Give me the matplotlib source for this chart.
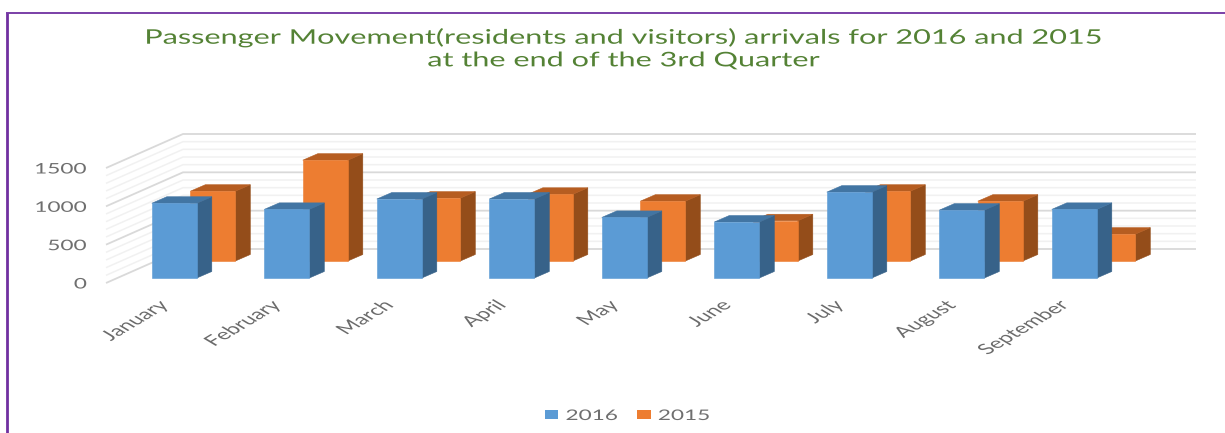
import matplotlib
matplotlib.use("Agg")
import matplotlib.pyplot as plt
from matplotlib.patches import Polygon, Patch
from matplotlib.lines import Line2D
from matplotlib.patheffects import AbstractPathEffect
from matplotlib.transforms import Affine2D

months = ["January", "February", "March", "April", "May", "June", "July", "August", "September"]
values_2016 = [975, 895, 1030, 1030, 790, 730, 1120, 885, 895]
values_2015 = [910, 1315, 820, 870, 780, 525, 910, 780, 350]
series_names = ["2016", "2015"]
major_ticks = [0, 500, 1000, 1500]
minor_step = 100

W, H = 1225, 433
CAT_PX = 112.5
VAL_PX = 115 / 1500
X0_PX, Y0_PX = 174.3, 278
FONT = "Lato"


class Stretch(AbstractPathEffect):
    """Widen text horizontally about a pixel x (the reference image is stretched)."""

    def __init__(self, sx, cx=None):
        super().__init__()
        self.sx, self.cx = sx, cx

    def draw_path(self, renderer, gc, tpath, affine, rgbFace=None):
        cx = self.cx if self.cx is not None else affine.get_matrix()[0, 2]
        t = affine + Affine2D().translate(-cx, 0).scale(self.sx, 1).translate(cx, 0)
        renderer.draw_path(gc, tpath, t, rgbFace)


fig = plt.figure(figsize=(W / 100, H / 100), dpi=100)
ax = fig.add_axes([0, 0, 1, 1])
ax.set_xlim(-X0_PX / CAT_PX, (W - X0_PX) / CAT_PX)
ax.set_ylim((Y0_PX - H) / VAL_PX, Y0_PX / VAL_PX)
ax.axis("off")

dcat = lambda px: px / CAT_PX
dval = lambda px: px / VAL_PX

BAR_W = dcat(45)
DEPTH_X, DEPTH_Y = dcat(15), dval(6.5)
wall_front_x, wall_back_x, wall_end_x = dcat(106 - X0_PX), dcat(183 - X0_PX), dcat(1196 - X0_PX)
wall_front_y, wall_back_y = dval(-5), dval(29)

# walls and gridlines
for v in range(major_ticks[0], major_ticks[-1] + 1, minor_step):
    major = v in major_ticks
    c = "#D9D9D9" if major else "#F1F1F1"
    lw = 1.3 if major else 1.1
    z = 2 if major else 1
    ax.plot([wall_front_x, wall_back_x, wall_end_x],
            [wall_front_y + v, wall_back_y + v, wall_back_y + v],
            color=c, lw=lw, zorder=z, solid_joinstyle="miter", solid_capstyle="butt")


def bar(i, v, shift_x, shift_y, front, top, side, z):
    x0 = i - BAR_W / 2 + shift_x
    x1 = x0 + BAR_W
    y0 = shift_y
    y1 = v + shift_y
    ax.add_patch(Polygon([(x1, y0), (x1 + DEPTH_X, y0 + DEPTH_Y), (x1 + DEPTH_X, y1 + DEPTH_Y), (x1, y1)],
                         fc=side, ec=side, lw=0.4, zorder=z))
    ax.add_patch(Polygon([(x0, y1), (x1, y1), (x1 + DEPTH_X, y1 + DEPTH_Y), (x0 + DEPTH_X, y1 + DEPTH_Y)],
                         fc=top, ec=top, lw=0.4, zorder=z))
    ax.add_patch(Polygon([(x0, y0), (x1, y0), (x1, y1), (x0, y1)], fc=front, ec=front, lw=0.4, zorder=z))


for i, v in enumerate(values_2015):
    bar(i, v, dcat(38.5), dval(17), "#ED7D31", "#B65D21", "#944D1A", 3)
for i, v in enumerate(values_2016):
    bar(i, v, 0, 0, "#5B9BD5", "#4275A3", "#376289", 4)

# value labels
for v in major_ticks:
    ax.text(dcat(87 - X0_PX), wall_front_y + v - dval(1.5), str(v), ha="right", va="center",
            fontsize=10.5, color="#6F6F6F", family=FONT,
            path_effects=[Stretch(1.55, cx=87)])

# category labels
for i, m in enumerate(months):
    anchor_px = X0_PX + i * CAT_PX - 9
    ax.text(i - dcat(9), dval(-25), m, rotation=45, rotation_mode="anchor", ha="right", va="center",
            fontsize=10.5, color="#6B6B6B", family=FONT,
            path_effects=[Stretch(1.67, cx=anchor_px)])

# title
fig.text(623 / W, 1 - 49 / H,
         "Passenger Movement(residents and visitors) arrivals for 2016 and 2015\nat the end of the 3rd Quarter",
         ha="center", va="center", fontsize=14.5, color="#548235", linespacing=1.4, family=FONT,
         path_effects=[Stretch(1.52, cx=623)])

# frame
purple = "#7030A0"
fig.add_artist(Line2D([7.3 / W, 7.3 / W], [0, 1 - 12.5 / H], color=purple, lw=2.0, solid_capstyle="butt"))
fig.add_artist(Line2D([6 / W, 1], [1 - 13 / H, 1 - 13 / H], color=purple, lw=1.3, solid_capstyle="butt"))

# legend
handles = [Patch(fc="#5B9BD5", ec="none"), Patch(fc="#ED7D31", ec="none")]
leg = fig.legend(handles, series_names, loc="center", bbox_to_anchor=(618.5 / W, 1 - 416 / H), ncol=2,
                 frameon=False, prop={"family": FONT, "size": 10.5}, labelcolor="#6F6F6F",
                 handlelength=0.9, handleheight=0.58, handletextpad=0.5, columnspacing=2.6)
for t in leg.get_texts():
    t.set_path_effects([Stretch(1.55)])

fig.savefig("out.png", dpi=100)
